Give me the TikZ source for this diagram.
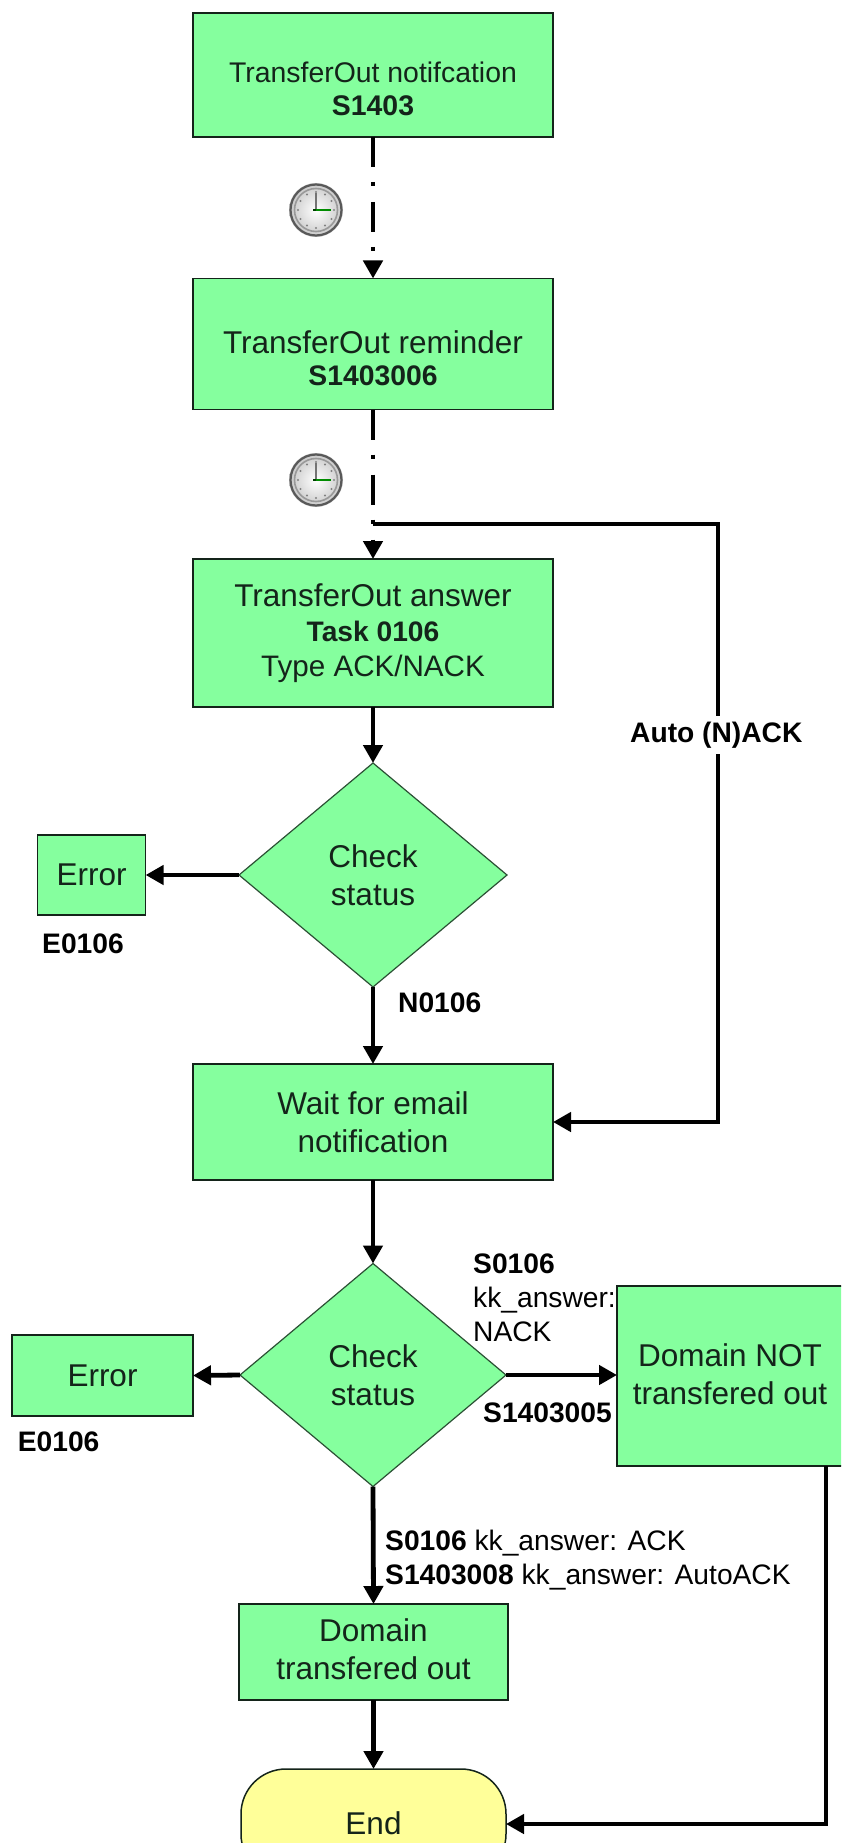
\documentclass[tikz,border=0pt]{standalone}
\usepackage{fontspec}
\setmainfont{Liberation Sans}
\usetikzlibrary{shapes.geometric,arrows.meta,positioning}
\definecolor{boxgreen}{HTML}{85FF9E}
\definecolor{endyellow}{HTML}{FFFF99}
\definecolor{inkdark}{HTML}{14241A}
\newcommand{\fs}[2]{\fontsize{#1}{#2}\selectfont}
\tikzset{
  x=1pt,y=-1pt,
  flowbox/.style={rectangle,draw=inkdark,line width=1.6pt,fill=boxgreen,inner sep=0pt,outer sep=0pt,align=center,text=inkdark,font=\fs{31.5}{38}},
  decision/.style={diamond,draw=inkdark!80!boxgreen,line width=1.2pt,fill=boxgreen,inner sep=0pt,outer sep=0pt,align=center,text=inkdark,shape aspect=1.19,font=\fs{31.5}{38}},
  terminal/.style={rectangle,rounded corners=45pt,draw=inkdark,line width=1.5pt,fill=endyellow,inner sep=0pt,outer sep=0pt,text=inkdark,font=\fs{31.5}{38}},
  boxtext/.style={inner sep=0pt,align=center,text=inkdark},
  note/.style={inner sep=0pt,anchor=base west,text=black,font=\fs{28.2}{34}},
  flow/.style={line width=4.8pt,draw=black,-{Triangle[length=18pt,width=19pt]}},
  timed/.style={flow,dash pattern=on 30pt off 15pt on 4pt off 16pt},
  clock/.pic={
    \shade[inner color=white,outer color=black!22] (0,0) circle (27);
    \draw[black!65,line width=2.2pt] (0,0) circle (25.5);
    \draw[black!40,line width=1.6pt] (0,0) circle (21.5);
    \foreach \a in {0,30,...,330}{\fill[black!50] (\a:18) circle (1.1);}
    \draw[black!55,line width=1.6pt] (0,0) -- (0,-17);
    \draw[black!75!green,line width=1.2pt] (-3,0) -- (0,0);
    \draw[green!55!black,line width=1.2pt] (0,0) -- (15,0);
  }
}
\begin{document}
\begin{tikzpicture}
\useasboundingbox (0,0) rectangle (841,1843);
\clip (0,0) rectangle (841,1843);
\fill[white] (0,0) rectangle (841,1843);

% boxes
\node[flowbox,minimum width=360pt,minimum height=124pt] (notify) at (373,75) {};
\node[boxtext,font=\fs{28.4}{33.5}] (notifytext) at (373,89) {TransferOut notifcation\\\textbf{S1403}};
\node[flowbox,minimum width=360pt,minimum height=131pt] (remind) at (373,344) {};
\node[boxtext,font=\fs{31.5}{32}] (remindtext) at (373,358) {TransferOut reminder\\{\fs{28.3}{32}\textbf{S1403006}}};
\node[flowbox,minimum width=360pt,minimum height=148pt,font=\fs{31.5}{35}] (answer) at (373,633) {TransferOut answer\\{\fs{28.2}{35}\textbf{Task 0106}}\\{\fs{29.6}{35}Type ACK/NACK}};
\node[decision,minimum width=268pt,minimum height=224pt] (check1) at (373,875) {Check\\status};
\node[flowbox,minimum width=108pt,minimum height=80pt] (error1) at (91.6,875) {Error};
\node[flowbox,minimum width=360pt,minimum height=116pt] (wait) at (373,1122) {Wait for email\\notification};
\node[decision,minimum width=266pt,minimum height=223pt] (check2) at (373,1375) {Check\\status};
\node[flowbox,minimum width=181pt,minimum height=81pt] (error2) at (102.5,1375.5) {Error};

% labels that lie under the boxes
\node[note] (s0106a) at (473,1273) {\textbf{S0106}};
\node[note] (kka) at (473,1307) {kk\_answer:};
\node[note] (nack) at (473,1341) {NACK};
\node[note] (s1403005) at (483,1422) {\textbf{S1403005}};

\node[flowbox,minimum width=240pt,minimum height=180pt,anchor=north west] (notout) at (617,1286) {};
\node[boxtext,font=\fs{31.5}{38}] (notouttext) at (730,1374) {Domain NOT\\transfered out};
\node[flowbox,minimum width=269pt,minimum height=96pt] (out) at (373.5,1652) {};
\node[boxtext,font=\fs{31.5}{38}] (outtext) at (373.5,1649.5) {Domain\\transfered out};
\node[terminal,minimum width=265pt,minimum height=110pt] (end) at (373.5,1824) {};
\node[boxtext,font=\fs{31.5}{38}] (endtext) at (373.5,1823) {End};

% free labels
\node[note] (e1) at (42,953) {\textbf{E0106}};
\node[note] (n0106) at (398,1012) {\textbf{N0106}};
\node[note] (e2) at (17.7,1451) {\textbf{E0106}};
\node[note] (ack1) at (385,1550) {\textbf{S0106} kk\_answer: ACK};
\node[note] (ack2) at (385,1584) {\textbf{S1403008} kk\_answer: AutoACK};

% clocks
\pic at (316,210) {clock};
\pic at (316,480) {clock};

% connectors
\coordinate (branch) at (373,524);
\coordinate (turnA) at (718,524);
\coordinate (turnB) at (826,1824);

\draw[timed] (notify.south) -- (remind.north);
\draw[timed] (remind.south) -- (answer.north);
\draw[flow] (branch) -- (turnA) -- (turnA |- wait.east) -- (wait.east);
\draw[flow] (answer.south) -- (check1.north);
\draw[flow] (check1.west) -- (error1.east);
\draw[flow] (check1.south) -- (wait.north);
\draw[flow] (wait.south) -- (check2.north);
\draw[flow] (check2.west) -- (error2.east);
\draw[flow] (check2.east) -- (notout.west |- check2.east);
\draw[flow] (check2.south) -- (out.north);
\draw[flow] (out.south) -- (end.north);
\draw[flow] (turnB |- notout.south) -- (turnB) -- (end.east);

% this label sits on the line and interrupts it
\node[note,fill=white,inner xsep=0pt,inner ysep=6pt] (autonack) at (630,742) {\textbf{Auto (N)ACK}};
\end{tikzpicture}
\end{document}
